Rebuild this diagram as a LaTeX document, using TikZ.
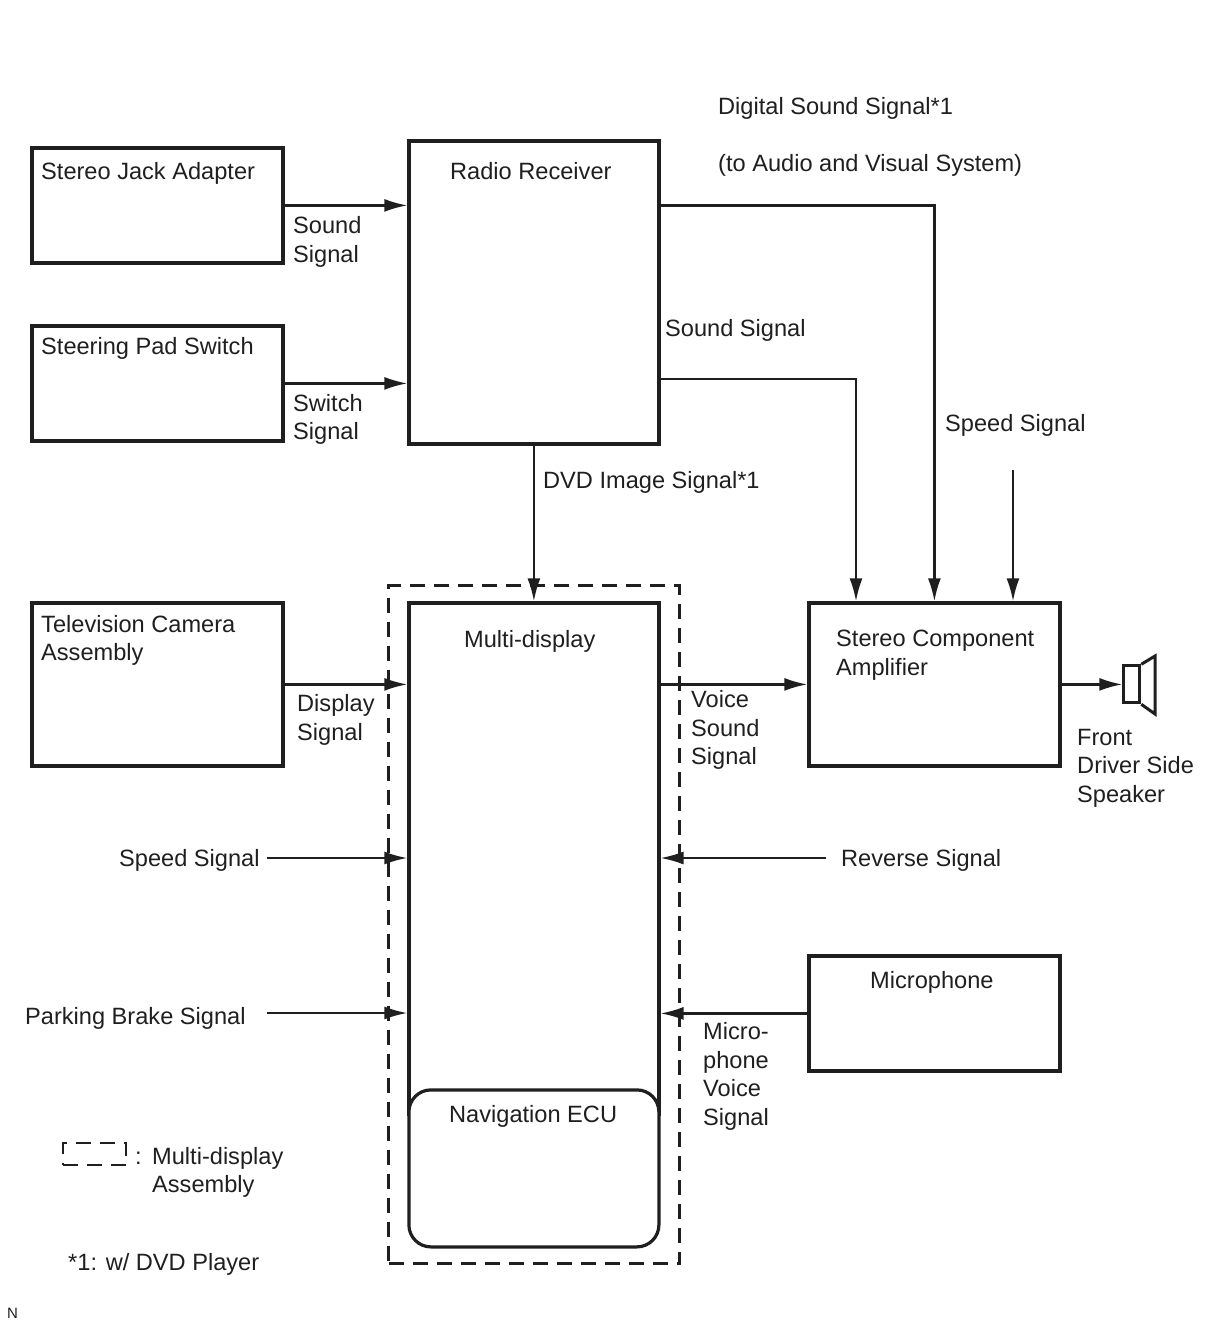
\documentclass[tikz,border=0pt]{standalone}
\usepackage{fontspec}
\setmainfont{Liberation Sans}
\usetikzlibrary{arrows.meta}
\definecolor{ink}{gray}{0.12}
\tikzset{
    blk/.style={draw=ink, line width=3.2pt, inner sep=0pt, anchor=north west, xshift=-1.7pt, yshift=1.7pt},
    txt/.style={anchor=north west, inner sep=0pt, align=left, text=ink, font=\fontsize{23.6}{28.4}\selectfont, execute at begin node=\rule{0pt}{18pt}},
    sig/.style={draw=ink, line width=2.2pt, -{Latex[length=23pt,width=13pt]}},
}

\begin{document}
\begin{tikzpicture}[x=1pt, y=-1pt]
    \useasboundingbox (0, 0) rectangle (1210, 1328);

    \node[blk, dash pattern=on 15pt off 9pt, line width=2.6pt, minimum width=291pt, minimum height=678pt] (assy) at (389, 586) {};
    \node[blk, minimum width=251pt, minimum height=115pt] (jack) at (32, 148) {};
    \node[blk, minimum width=251pt, minimum height=115pt] (pad) at (32, 326) {};
    \node[blk, minimum width=250pt, minimum height=303pt] (radio) at (409, 141) {};
    \node[blk, minimum width=251pt, minimum height=163pt] (camera) at (32, 603) {};
    \node[blk, minimum width=250pt, minimum height=511pt] (display) at (409, 603) {};
    \node[blk, fill=white, minimum width=250pt, minimum height=157pt, rounded corners=22pt] (nav) at (409, 1090) {};
    \node[blk, minimum width=251pt, minimum height=163pt] (amp) at (809, 603) {};
    \node[blk, minimum width=251pt, minimum height=115pt] (mic) at (809, 956) {};
    \node[blk, line width=3pt, minimum width=16pt, minimum height=37pt] (spk) at (1124, 666) {};
    \draw[ink, line width=3pt] (spk.north east) -- (1155, 656) -- (1155, 714) -- (spk.south east);

    \coordinate (speedamp) at (1013, 470);
    \coordinate (speedin) at (267, 858);
    \coordinate (brakein) at (267, 1013);
    \coordinate (reversein) at (826, 858);
    \coordinate (soundamp) at (856, 601.3);
    \coordinate (soundout) at (660, 379);

    \draw[sig] (jack.east) -- (jack.east -| radio.west);
    \draw[sig] (pad.east) -- (pad.east -| radio.west);
    \draw[sig] (radio.east |- jack.east) -| (amp.north);
    \draw[sig] (soundout) -| (soundamp);
    \draw[sig] (speedamp) -- (speedamp |- amp.north);
    \draw[sig] (radio.south -| display.north) -- (display.north);
    \draw[sig] (camera.east) -- (camera.east -| display.west);
    \draw[sig] (display.east |- amp.west) -- (amp.west);
    \draw[sig] (amp.east) -- (amp.east -| spk.west);
    \draw[sig] (speedin) -- (speedin -| display.west);
    \draw[sig] (brakein) -- (brakein -| display.west);
    \draw[sig] (reversein) -- (reversein -| display.east);
    \draw[sig] (mic.west) -- (mic.west -| display.east);

    \node[txt] (digital) at (718, 96) {Digital Sound Signal*1};
    \node[txt] (tovisual) at (718, 153) {(to Audio and Visual System)};
    \node[txt] (jacktext) at (41, 161) {Stereo Jack Adapter};
    \node[txt] (radiotext) at (450, 161) {Radio Receiver};
    \node[txt] (soundin) at (293, 216.5) {Sound\\Signal};
    \node[txt] (padtext) at (41, 336) {Steering Pad Switch};
    \node[txt] (switchin) at (293, 394) {Switch\\Signal};
    \node[txt] (soundlabel) at (665, 318) {Sound Signal};
    \node[txt] (speedtext) at (945, 413) {Speed Signal};
    \node[txt] (dvd) at (543, 470) {DVD Image Signal*1};
    \node[txt] (cameratext) at (41, 615) {Television Camera\\Assembly};
    \node[txt] (displaytext) at (464, 629) {Multi-display};
    \node[txt] (amptext) at (836, 630) {Stereo Component\\Amplifier};
    \node[txt] (displaysig) at (297, 694.5) {Display\\Signal};
    \node[txt] (voice) at (691, 690.5) {Voice\\Sound\\Signal};
    \node[txt] (spktext) at (1077, 729) {Front\\Driver Side\\Speaker};
    \node[txt] (speedlabel) at (119, 848) {Speed Signal};
    \node[txt] (reverse) at (841, 848) {Reverse Signal};
    \node[txt] (mictext) at (870, 970) {Microphone};
    \node[txt] (brake) at (25, 1006) {Parking Brake Signal};
    \node[txt] (micvoice) at (703, 1022.5) {Micro-\\phone\\Voice\\Signal};
    \node[txt] (navtext) at (449, 1104) {Navigation ECU};

    \node[blk, dash pattern=on 15pt off 9pt, line width=2pt, minimum width=63pt, minimum height=22pt] (legend) at (64, 1144) {};
    \node[txt] (colon) at (135, 1146) {:};
    \node[txt] (legendtext) at (152, 1147) {Multi-display\\Assembly};
    \node[txt] (note) at (68, 1252) {*1: w/ DVD Player};
    \node[anchor=west, inner sep=0pt, text=ink, font=\fontsize{15}{17}\selectfont] (corner) at (7, 1313) {N};
\end{tikzpicture}
\end{document}
